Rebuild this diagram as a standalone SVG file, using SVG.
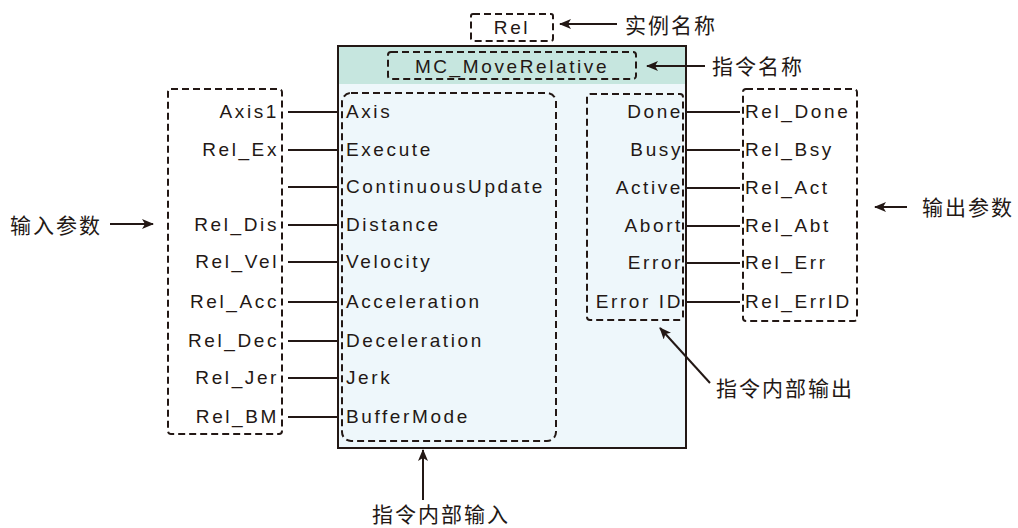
<svg xmlns="http://www.w3.org/2000/svg" width="1018" height="528" viewBox="0 0 1018 528">
<style>
.t{font-family:"Liberation Sans",Arial,sans-serif;font-size:19px;letter-spacing:2.6px;fill:#231815}
.e{text-anchor:end}
.c{font-family:"Noto Sans CJK SC","Liberation Sans",sans-serif;font-size:21px;letter-spacing:2px;fill:#231815}
.d{fill:none;stroke:#231815;stroke-width:2;stroke-dasharray:7 4}
.ln{stroke:#231815;stroke-width:2;fill:none}
</style>
<defs>
<marker id="ah" viewBox="0 0 12 10" refX="11" refY="5" markerWidth="12" markerHeight="10" markerUnits="userSpaceOnUse" orient="auto">
<path d="M0,0 L12,5 L0,10 L3,5 Z" fill="#231815"/>
</marker>
</defs>
<rect width="1018" height="528" fill="#ffffff"/>

<g id="instance">
<rect class="d" x="471" y="14" width="82" height="27" rx="2"/>
<text class="t" x="512" y="34" text-anchor="middle">Rel</text>
</g>

<g id="block">
<rect x="338" y="46" width="348" height="38" fill="#c6e6df"/>
<rect x="338" y="84" width="348" height="364" fill="#eef7fb"/>
<rect x="338" y="46" width="348" height="402" fill="none" stroke="#231815" stroke-width="2"/>
<rect class="d" x="388" y="52" width="248" height="27" rx="3"/>
<text class="t" x="512" y="73" text-anchor="middle">MC_MoveRelative</text>
</g>

<g id="inner-inputs">
<rect class="d" x="342" y="93" width="214" height="348" rx="9"/>
<text class="t" x="346" y="118">Axis</text>
<text class="t" x="346" y="156">Execute</text>
<text class="t" x="346" y="193">ContinuousUpdate</text>
<text class="t" x="346" y="231">Distance</text>
<text class="t" x="346" y="268">Velocity</text>
<text class="t" x="346" y="308">Acceleration</text>
<text class="t" x="346" y="347">Deceleration</text>
<text class="t" x="346" y="384">Jerk</text>
<text class="t" x="346" y="423">BufferMode</text>
</g>

<g id="inner-outputs">
<rect class="d" x="587" y="94" width="96" height="226" rx="3"/>
<text class="t e" x="683" y="118">Done</text>
<text class="t e" x="683" y="156">Busy</text>
<text class="t e" x="683" y="194">Active</text>
<text class="t e" x="683" y="232">Abort</text>
<text class="t e" x="683" y="269">Error</text>
<text class="t e" x="683" y="308">Error ID</text>
</g>

<g id="input-params">
<rect class="d" x="168" y="89" width="114" height="345" rx="3"/>
<text class="t e" x="279" y="118">Axis1</text>
<text class="t e" x="279" y="156">Rel_Ex</text>
<text class="t e" x="279" y="231">Rel_Dis</text>
<text class="t e" x="279" y="268">Rel_Vel</text>
<text class="t e" x="279" y="308">Rel_Acc</text>
<text class="t e" x="279" y="347">Rel_Dec</text>
<text class="t e" x="279" y="384">Rel_Jer</text>
<text class="t e" x="279" y="423">Rel_BM</text>
</g>

<g id="output-params">
<rect class="d" x="743" y="89" width="114" height="232" rx="3"/>
<text class="t" x="745" y="118">Rel_Done</text>
<text class="t" x="745" y="156">Rel_Bsy</text>
<text class="t" x="745" y="194">Rel_Act</text>
<text class="t" x="745" y="232">Rel_Abt</text>
<text class="t" x="745" y="269">Rel_Err</text>
<text class="t" x="745" y="308">Rel_ErrID</text>
</g>

<g id="connectors">
<path class="ln" d="M288,112H338 M288,150H338 M288,187H338 M288,225H338 M288,262H338 M288,302H338 M288,341H338 M288,378H338 M288,417H338"/>
<path class="ln" d="M686,112H740 M686,150H740 M686,188H740 M686,226H740 M686,263H740 M686,302H740"/>
<line class="ln" x1="617" y1="24" x2="560" y2="24" marker-end="url(#ah)"/>
<line class="ln" x1="705" y1="66" x2="647" y2="66" marker-end="url(#ah)"/>
<line class="ln" x1="110" y1="224" x2="153" y2="224" marker-end="url(#ah)"/>
<line class="ln" x1="907" y1="207" x2="875" y2="207" marker-end="url(#ah)"/>
<line class="ln" x1="710" y1="383" x2="660" y2="328" marker-end="url(#ah)"/>
<line class="ln" x1="423" y1="500" x2="423" y2="450" marker-end="url(#ah)"/>
</g>

<g id="annotations">
<text class="c" x="625" y="33">实例名称</text>
<text class="c" x="712" y="74">指令名称</text>
<text class="c" x="10" y="233">输入参数</text>
<text class="c" x="922" y="215">输出参数</text>
<text class="c" x="716" y="396">指令内部输出</text>
<text class="c" x="372" y="522">指令内部输入</text>
</g>
</svg>
